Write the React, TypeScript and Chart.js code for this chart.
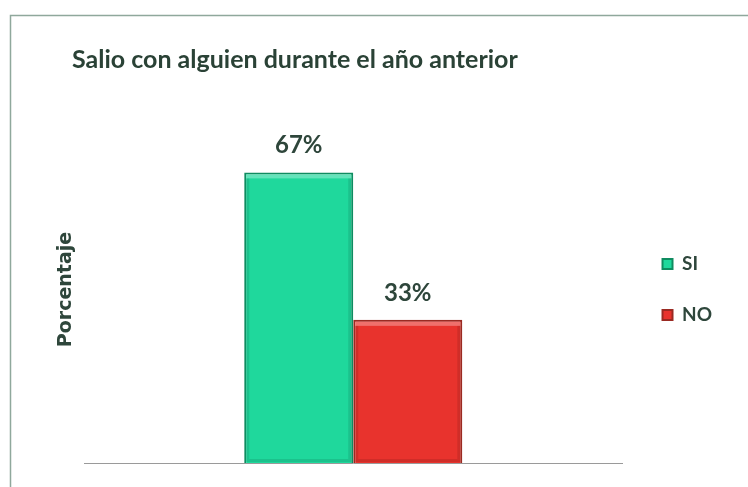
import React, { useEffect, useRef } from "react";
import { Chart, registerables } from "chart.js";

Chart.register(...registerables);

const categories: string[] = [""];
const seriesNames: string[] = ["SI", "NO"];
const siValues: number[] = [67];
const noValues: number[] = [33];
const titleText = "Salio con alguien durante el año anterior";
const yAxisTitle = "Porcentaje";

const frameBorder = {
  id: "frameBorder",
  beforeDraw(chart: any) {
    const ctx = chart.ctx;
    ctx.save();
    ctx.fillStyle = "#ffffff";
    ctx.fillRect(0, 0, chart.width, chart.height);
    ctx.strokeStyle = "#8fa89c";
    ctx.lineWidth = 1.5;
    ctx.beginPath();
    ctx.moveTo(10.5, chart.height);
    ctx.lineTo(10.5, 15.5);
    ctx.lineTo(chart.width, 15.5);
    ctx.stroke();
    ctx.restore();
  },
};

const bevel = {
  id: "bevel",
  afterDatasetsDraw(chart: any) {
    const ctx = chart.ctx;
    ctx.save();
    chart.data.datasets.forEach((_ds: any, i: number) => {
      const meta = chart.getDatasetMeta(i);
      meta.data.forEach((el: any) => {
        const l = el.x - el.width / 2 + 2;
        const r = el.x + el.width / 2 - 2;
        const t = el.y + 2;
        const b = el.base - 1;
        ctx.fillStyle = "rgba(255,255,255,0.3)";
        ctx.fillRect(l, t, r - l, 4);
        ctx.fillStyle = "rgba(0,0,0,0.10)";
        ctx.fillRect(l, t + 4, 3, b - t - 4);
        ctx.fillRect(r - 3, t + 4, 3, b - t - 4);
        ctx.fillRect(l + 3, b - 3, r - l - 6, 3);
      });
    });
    ctx.restore();
  },
};

const valueLabels = {
  id: "valueLabels",
  afterDatasetsDraw(chart: any) {
    const ctx = chart.ctx;
    ctx.save();
    ctx.font = "bold 24px Lato";
    ctx.fillStyle = "#2e463b";
    ctx.textAlign = "center";
    ctx.textBaseline = "alphabetic";
    chart.data.datasets.forEach((ds: any, i: number) => {
      const meta = chart.getDatasetMeta(i);
      meta.data.forEach((el: any, j: number) => {
        ctx.fillText(`${ds.data[j]}%`, el.x, el.y - 19);
      });
    });
    ctx.restore();
  },
};

export default function App() {
  const ref = useRef<HTMLCanvasElement | null>(null);
  useEffect(() => {
    document.body.style.margin = "0";
    if (!ref.current) return;
    const chart = new Chart(ref.current, {
      type: "bar",
      data: {
        labels: categories,
        datasets: [
          {
            label: seriesNames[0],
            data: siValues,
            backgroundColor: "#1fd89c",
            borderColor: "#0f8c60",
            borderWidth: 2,
          },
          {
            label: seriesNames[1],
            data: noValues,
            backgroundColor: "#e8332d",
            borderColor: "#9a2a22",
            borderWidth: 2,
          },
        ],
      },
      options: {
        responsive: false,
        animation: false,
        datasets: { bar: { categoryPercentage: 0.405, barPercentage: 1 } },
        layout: { padding: { left: 72, right: 26, top: 0, bottom: 24 } },
        scales: {
          x: {
            ticks: { display: false },
            grid: { display: false, drawTicks: false },
            border: { display: true, color: "#9a9a9a", width: 1 },
          },
          y: {
            min: 0,
            max: 80,
            ticks: { display: false },
            grid: { display: false, drawTicks: false },
            border: { display: false },
            title: {
              display: true,
              text: yAxisTitle,
              color: "#2e463b",
              font: { family: "'DejaVu Sans'", size: 19, weight: "bold", lineHeight: 1.2 },
              padding: { top: -17.4, bottom: 6.6 },
            },
          },
          yR: {
            position: "right",
            min: 0,
            max: 80,
            ticks: { display: false },
            grid: { display: false, drawTicks: false },
            border: { display: false },
            afterFit: (s: any) => {
              s.width = 8;
            },
          },
        },
        plugins: {
          title: {
            display: true,
            text: titleText,
            align: "start",
            color: "#2a4236",
            font: { family: "Lato", size: 25, weight: "bold", lineHeight: 1.2 },
            padding: { top: 45, bottom: 41 },
          },
          legend: {
            position: "right",
            fullSize: false,
            labels: {
              boxWidth: 10,
              boxHeight: 10,
              padding: 32,
              color: "#2e463b",
              font: { family: "Lato", size: 19, weight: "bold" },
            },
          },
          tooltip: { enabled: false },
        },
      },
      plugins: [frameBorder, bevel, valueLabels],
    });
    return () => chart.destroy();
  }, []);
  return (
    <div style={{ width: 748, height: 487 }}>
      <canvas ref={ref} width={748} height={487} />
    </div>
  );
}
